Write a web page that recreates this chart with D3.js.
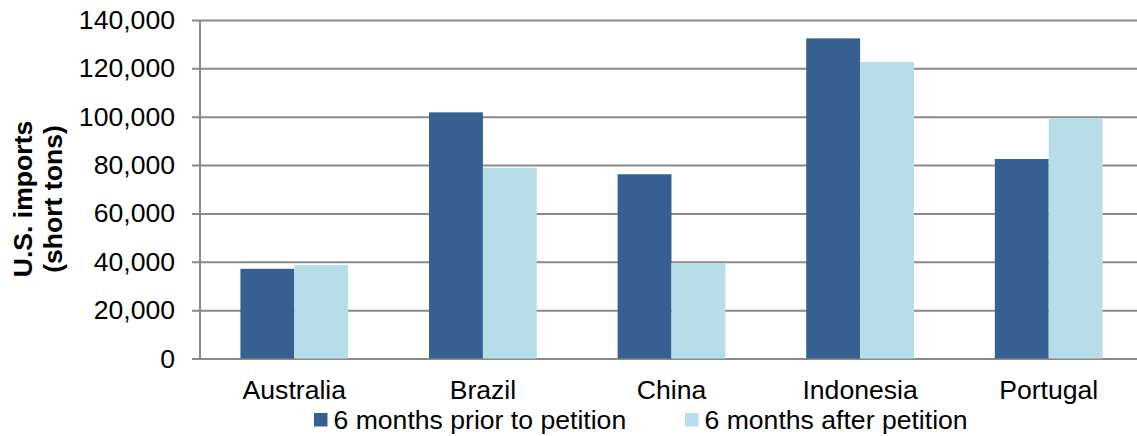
<!DOCTYPE html>
<html>
<head>
<meta charset="utf-8">
<script src="https://cdn.jsdelivr.net/npm/d3@7"></script>
<style>
  html, body { margin: 0; padding: 0; background: #fff; }
  svg { display: block; font-family: "Liberation Sans", Arial, sans-serif; }
</style>
</head>
<body>
<svg id="chart" width="1137" height="436"></svg>
<script>
// Imports by country, six months before and after the petition (short tons)
const countries = ["Australia", "Brazil", "China", "Indonesia", "Portugal"];
const seriesNames = ["6 months prior to petition", "6 months after petition"];
const priorValues = [37100, 101800, 76200, 132400, 82500];
const afterValues = [38700, 78900, 39400, 122600, 99200];
const yTicks = [0, 20000, 40000, 60000, 80000, 100000, 120000, 140000];
const colors = ["#366092", "#B7DDE8"];

const FONT = "'Liberation Sans', Arial, sans-serif";
const FS = "26.6px";
const svg = d3.select("#chart");
const plot = { left: 200, right: 1143, top: 20, bottom: 358.5 };

const x0 = d3.scaleBand()
  .domain(countries)
  .range([plot.left, plot.right])
  .paddingInner(0.4286)
  .paddingOuter(0.2143);

const x1 = d3.scaleBand()
  .domain([0, 1])
  .range([0, x0.bandwidth()]);

const y = d3.scaleLinear()
  .domain([0, 140000])
  .range([plot.bottom, plot.top]);

// Horizontal gridlines with short outer ticks
const yAxis = d3.axisLeft(y)
  .tickValues(yTicks)
  .tickFormat(d3.format(","))
  .tickSize(-(1137 - plot.left))
  .tickPadding(17);

const gy = svg.append("g")
  .attr("transform", `translate(${plot.left},0)`)
  .call(yAxis);
gy.attr("font-size", null).attr("font-family", null);
gy.select(".domain").remove();
gy.selectAll(".tick line")
  .attr("x1", -8)
  .attr("stroke", "#8a8a8a")
  .attr("stroke-width", 2);
gy.selectAll(".tick text")
  .attr("x", -25)
  .style("font-size", FS)
  .style("font-family", FONT)
  .attr("fill", "#000");

// Bars
const rows = countries.map((c, i) => ({ country: c, values: [priorValues[i], afterValues[i]] }));
const groups = svg.append("g").selectAll("g")
  .data(rows)
  .join("g")
  .attr("transform", d => `translate(${x0(d.country)},0)`);

groups.selectAll("rect")
  .data(d => d.values.map((v, k) => ({ k, v })))
  .join("rect")
  .attr("x", d => x1(d.k))
  .attr("width", x1.bandwidth())
  .attr("y", d => y(d.v))
  .attr("height", d => y(0) - y(d.v))
  .attr("fill", d => colors[d.k]);

// Vertical axis line drawn over the grid
svg.append("line")
  .attr("x1", plot.left).attr("x2", plot.left)
  .attr("y1", plot.top).attr("y2", plot.bottom)
  .attr("stroke", "#8a8a8a")
  .attr("stroke-width", 2);

// Category labels
const xAxis = d3.axisBottom(x0).tickSize(0).tickPadding(0);
const gx = svg.append("g")
  .attr("transform", `translate(0,${plot.bottom})`)
  .call(xAxis);
gx.attr("font-size", null).attr("font-family", null);
gx.select(".domain").remove();
gx.selectAll(".tick text")
  .attr("dy", null)
  .attr("y", 40)
  .style("font-size", FS)
  .style("font-family", FONT)
  .attr("fill", "#000");

// Y-axis title
const title = svg.append("text")
  .attr("transform", "translate(0,199) rotate(-90)")
  .attr("text-anchor", "middle")
  .style("font-size", FS)
  .style("font-weight", "bold")
  .attr("fill", "#000");
title.append("tspan").attr("x", 0).attr("y", 32).text("U.S. imports");
title.append("tspan").attr("x", 0).attr("y", 62).text("(short tons)");

// Legend
const legendX = [314, 685];
const legend = svg.append("g").selectAll("g")
  .data(seriesNames)
  .join("g")
  .attr("transform", (d, i) => `translate(${legendX[i]},413)`);
legend.append("rect")
  .attr("width", 13.5).attr("height", 13.5)
  .attr("fill", (d, i) => colors[i]);
legend.append("text")
  .attr("x", 19.5).attr("y", 15.5)
  .style("font-size", FS)
  .attr("fill", "#000")
  .text(d => d);
</script>
</body>
</html>
